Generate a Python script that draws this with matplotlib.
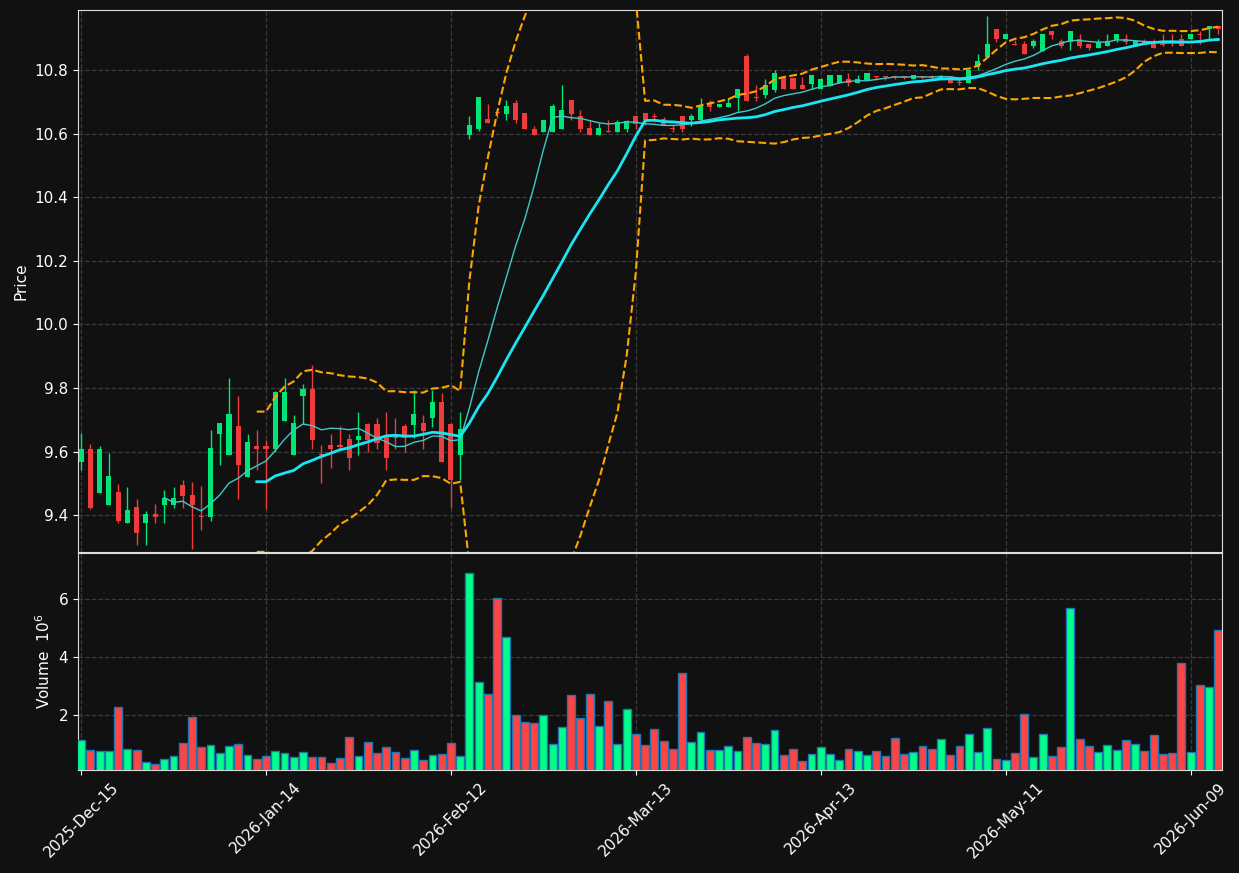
import numpy as np
import pandas as pd
import matplotlib
matplotlib.use("Agg")
import matplotlib.pyplot as plt

# daily OHLC
opens = [9.567, 9.607, 9.469, 9.431, 9.472, 9.375, 9.424, 9.375, 9.405, 9.431,
         9.431, 9.494, 9.462, 9.397, 9.394, 9.655, 9.589, 9.679, 9.520, 9.618,
         9.618, 9.607, 9.696, 9.589, 9.775, 9.796, 9.593, 9.619, 9.619, 9.638,
         9.635, 9.688, 9.688, 9.648, 9.650, 9.679, 9.685, 9.689, 9.705, 9.755,
         9.688, 9.588, 10.595, 10.613, 10.645, 10.668, 10.661, 10.695, 10.664, 10.616,
         10.605, 10.605, 10.613, 10.705, 10.654, 10.617, 10.595, 10.608, 10.605, 10.613,
         10.654, 10.664, 10.656, 10.645, 10.617, 10.654, 10.642, 10.642, 10.694, 10.684,
         10.684, 10.713, 10.843, 10.714, 10.720, 10.738, 10.775, 10.775, 10.752, 10.757,
         10.741, 10.749, 10.759, 10.773, 10.759, 10.770, 10.781, 10.781, 10.781, 10.781,
         10.772, 10.781, 10.781, 10.776, 10.781, 10.760, 10.759, 10.809, 10.841, 10.930,
         10.898, 10.881, 10.883, 10.877, 10.860, 10.922, 10.890, 10.888, 10.899, 10.881,
         10.870, 10.877, 10.896, 10.899, 10.880, 10.888, 10.881, 10.883, 10.886, 10.899,
         10.898, 10.913, 10.930, 10.940]
highs = [9.657, 9.625, 9.616, 9.596, 9.499, 9.490, 9.452, 9.414, 9.434, 9.480,
         9.490, 9.512, 9.503, 9.493, 9.667, 9.689, 9.832, 9.774, 9.656, 9.667,
         9.637, 9.790, 9.832, 9.716, 9.813, 9.873, 9.619, 9.656, 9.679, 9.656,
         9.725, 9.690, 9.706, 9.725, 9.706, 9.688, 9.795, 9.716, 9.795, 9.784,
         9.690, 9.725, 10.654, 10.714, 10.694, 10.672, 10.705, 10.705, 10.664, 10.625,
         10.644, 10.694, 10.752, 10.705, 10.673, 10.644, 10.633, 10.644, 10.644, 10.644,
         10.654, 10.664, 10.665, 10.652, 10.626, 10.654, 10.663, 10.713, 10.705, 10.694,
         10.713, 10.741, 10.852, 10.752, 10.773, 10.801, 10.775, 10.775, 10.777, 10.783,
         10.775, 10.783, 10.783, 10.792, 10.783, 10.792, 10.781, 10.781, 10.781, 10.781,
         10.783, 10.781, 10.783, 10.783, 10.781, 10.773, 10.801, 10.852, 10.969, 10.930,
         10.912, 10.895, 10.890, 10.899, 10.912, 10.922, 10.899, 10.922, 10.912, 10.881,
         10.899, 10.912, 10.912, 10.912, 10.890, 10.899, 10.899, 10.912, 10.912, 10.912,
         10.912, 10.922, 10.940, 10.940]
lows = [9.541, 9.420, 9.469, 9.431, 9.375, 9.375, 9.307, 9.307, 9.375, 9.375,
        9.423, 9.423, 9.294, 9.354, 9.383, 9.559, 9.589, 9.452, 9.520, 9.541,
        9.420, 9.600, 9.696, 9.589, 9.688, 9.609, 9.501, 9.549, 9.604, 9.541,
        9.589, 9.600, 9.607, 9.541, 9.607, 9.598, 9.643, 9.607, 9.676, 9.567,
        9.423, 9.509, 10.584, 10.608, 10.633, 10.650, 10.644, 10.633, 10.614, 10.595,
        10.605, 10.605, 10.613, 10.644, 10.605, 10.595, 10.595, 10.605, 10.605, 10.605,
        10.613, 10.626, 10.635, 10.626, 10.605, 10.605, 10.623, 10.642, 10.671, 10.684,
        10.684, 10.671, 10.702, 10.702, 10.713, 10.731, 10.739, 10.739, 10.739, 10.741,
        10.739, 10.749, 10.759, 10.749, 10.759, 10.770, 10.770, 10.770, 10.772, 10.772,
        10.772, 10.772, 10.772, 10.772, 10.759, 10.752, 10.759, 10.801, 10.841, 10.888,
        10.898, 10.879, 10.850, 10.870, 10.860, 10.899, 10.870, 10.862, 10.870, 10.862,
        10.870, 10.877, 10.888, 10.881, 10.880, 10.881, 10.870, 10.877, 10.877, 10.877,
        10.898, 10.881, 10.899, 10.912]
closes = [9.607, 9.422, 9.607, 9.522, 9.383, 9.415, 9.343, 9.405, 9.394, 9.454,
          9.454, 9.460, 9.431, 9.394, 9.610, 9.689, 9.717, 9.557, 9.629, 9.608,
          9.608, 9.786, 9.786, 9.689, 9.796, 9.636, 9.588, 9.607, 9.614, 9.579,
          9.648, 9.635, 9.627, 9.579, 9.643, 9.643, 9.717, 9.664, 9.755, 9.567,
          9.509, 9.670, 10.626, 10.714, 10.633, 10.665, 10.686, 10.643, 10.614, 10.595,
          10.644, 10.686, 10.673, 10.661, 10.613, 10.595, 10.617, 10.606, 10.635, 10.639,
          10.631, 10.642, 10.653, 10.626, 10.614, 10.616, 10.654, 10.686, 10.684, 10.694,
          10.695, 10.741, 10.702, 10.712, 10.752, 10.792, 10.739, 10.739, 10.739, 10.783,
          10.773, 10.783, 10.783, 10.759, 10.773, 10.792, 10.779, 10.779, 10.778, 10.778,
          10.783, 10.778, 10.779, 10.779, 10.759, 10.759, 10.801, 10.830, 10.881, 10.898,
          10.912, 10.879, 10.850, 10.890, 10.912, 10.909, 10.877, 10.922, 10.877, 10.870,
          10.888, 10.890, 10.912, 10.888, 10.890, 10.883, 10.870, 10.880, 10.884, 10.877,
          10.912, 10.911, 10.940, 10.930]
# volume in millions
volumes = [1.13, 0.78, 0.74, 0.74, 2.26, 0.84, 0.78, 0.37, 0.29, 0.49,
           0.57, 1.02, 1.92, 0.89, 0.95, 0.68, 0.92, 0.99, 0.61, 0.49,
           0.57, 0.75, 0.68, 0.54, 0.71, 0.54, 0.54, 0.33, 0.51, 1.23,
           0.57, 1.06, 0.68, 0.89, 0.71, 0.51, 0.78, 0.44, 0.61, 0.64,
           1.02, 0.57, 6.89, 3.13, 2.71, 6.02, 4.68, 1.99, 1.75, 1.71,
           1.99, 0.99, 1.57, 2.68, 1.89, 2.71, 1.61, 2.47, 0.99, 2.20,
           1.33, 0.95, 1.51, 1.09, 0.82, 3.44, 1.06, 1.40, 0.78, 0.78,
           0.92, 0.75, 1.23, 1.02, 0.99, 1.47, 0.61, 0.82, 0.40, 0.64,
           0.89, 0.64, 0.44, 0.82, 0.75, 0.61, 0.75, 0.57, 1.20, 0.64,
           0.71, 0.92, 0.82, 1.16, 0.61, 0.92, 1.33, 0.71, 1.54, 0.47,
           0.44, 0.68, 2.02, 0.54, 1.33, 0.57, 0.89, 5.68, 1.16, 0.92,
           0.71, 0.95, 0.78, 1.13, 0.99, 0.75, 1.30, 0.64, 0.68, 3.78,
           0.71, 3.02, 2.95, 4.92]
tick_labels = ['2025-Dec-15', '2026-Jan-14', '2026-Feb-12', '2026-Mar-13',
               '2026-Apr-13', '2026-May-11', '2026-Jun-09']
tick_step = 20

bg = '#111111'
up_c, dn_c = '#00e676', '#ef3b3b'
vup_c, vdn_c = '#00ff88', '#ff4444'

close_s = pd.Series(closes)
ma10 = close_s.rolling(10).mean()
ma20 = close_s.rolling(20).mean()
sd20 = close_s.rolling(20).std(ddof=0)
bb_up = ma20 + 2 * sd20
bb_lo = ma20 - 2 * sd20

x = np.arange(len(closes))
o = np.array(opens)
c = np.array(closes)
up = c >= o
cols = np.where(up, up_c, dn_c)
vcols = np.where(up, vup_c, vdn_c)

fig = plt.figure(figsize=(12.39, 8.73), dpi=100, facecolor=bg)
ax1 = fig.add_axes([0.063, 0.3677, 0.9233, 0.6209], facecolor=bg)
ax2 = fig.add_axes([0.063, 0.118, 0.9233, 0.2486], facecolor=bg, sharex=ax1)

# candles
ax1.vlines(x, lows, highs, colors=cols, linewidth=1, zorder=2)
body_h = np.abs(c - o)
body_h = np.where(body_h < 0.003, 0.003, body_h)
ax1.bar(x, body_h, bottom=np.minimum(o, c), width=0.55, color=cols, zorder=3)

# moving averages and bollinger bands
ax1.plot(x, ma10, color='#3fc9c9', linewidth=1, zorder=4)
ax1.plot(x, ma20, color='#19e6f5', linewidth=2, zorder=4)
ax1.plot(x, bb_up, color='#ffa500', linewidth=1.5, linestyle='--', zorder=4)
ax1.plot(x, bb_lo, color='#ffa500', linewidth=1.5, linestyle='--', zorder=4)

# volume
ax2.bar(x, volumes, width=0.85, color=vcols, edgecolor='#1f77b4', linewidth=1, zorder=3)

ax1.set_xlim(-0.33, len(closes) - 1 + 0.4)
ax1.set_ylim(9.284, 10.989)
ax2.set_ylim(0.1, 7.59)
ax1.set_yticks([9.4, 9.6, 9.8, 10.0, 10.2, 10.4, 10.6, 10.8])
ax2.set_yticks([2, 4, 6])

ticks = np.arange(0, len(closes), tick_step)
ax2.set_xticks(ticks)
ax2.set_xticklabels(tick_labels, rotation=45, ha='center')
plt.setp(ax1.get_xticklabels(), visible=False)

for ax in (ax1, ax2):
    ax.grid(True, color='#3a3a3a', linestyle='--', linewidth=0.9)
    ax.set_axisbelow(True)
    ax.tick_params(colors='white', labelsize=11)
    for s in ax.spines.values():
        s.set_color('#dddddd')

ax1.set_ylabel('Price', color='white', fontsize=11)
ax2.set_ylabel('Volume  $10^{6}$', color='white', fontsize=11)

fig.savefig('out.png', dpi=100, facecolor=bg)
